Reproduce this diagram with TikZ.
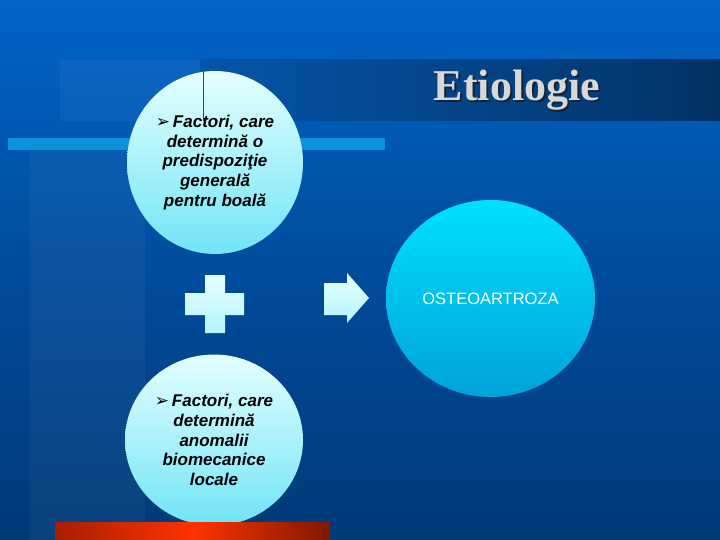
\documentclass[tikz,border=0pt]{standalone}
\usepackage{fontspec}
\setmainfont{Liberation Sans}
\newfontfamily\titlefont{Liberation Serif}
\newfontfamily\symfont{DejaVu Sans}
\usetikzlibrary{shapes.geometric}
\definecolor{bgtop}{HTML}{0064C8}
\definecolor{bgmid}{HTML}{004C9C}
\definecolor{bgbot}{HTML}{003A78}
\definecolor{lightbar}{HTML}{0C92DA}
\definecolor{tb1}{HTML}{0558B0}
\definecolor{tb2}{HTML}{03376E}
\definecolor{tb3}{HTML}{000A1E}
\definecolor{ctop}{HTML}{E4FFFF}
\definecolor{cbot}{HTML}{70E4F6}
\definecolor{otop}{HTML}{00E0FF}
\definecolor{obot}{HTML}{00A2DA}
\definecolor{redc}{HTML}{FF3300}
\definecolor{redl}{HTML}{A81E00}
\definecolor{redr}{HTML}{801800}
\definecolor{titlegray}{HTML}{D8D8D8}
\definecolor{shadowc}{HTML}{14233A}
\definecolor{vline}{HTML}{1E4A7E}
\pgfdeclarehorizontalshading{titlebar}{100bp}{color(0bp)=(tb1); color(20bp)=(tb1); color(70bp)=(tb2); color(100bp)=(tb3)}
\tikzset{
  circ/.style={ellipse, draw=none, inner sep=0pt, align=center, text=black,
    font=\fontsize{17}{19.7}\selectfont\bfseries\itshape},
  lightshape/.style={top color=ctop, bottom color=ctop!60!cbot, draw=none},
}
\newcommand{\bul}{{\symfont\fontsize{17}{17}\selectfont\upshape\mdseries ➢}}
\begin{document}
\begin{tikzpicture}[x=1pt,y=-1pt]
\useasboundingbox (0,0) rectangle (720,540);
% background
\shade[top color=bgtop, bottom color=bgbot, middle color=bgmid] (0,0) rectangle (720,540);
\fill[white, opacity=0.04] (30,150) rectangle (145,540);
\fill[white, opacity=0.04] (60,60) rectangle (200,121);
% title bar
\shade[shading=titlebar] (200,60) rectangle (720,121);
% light horizontal bar
\fill[lightbar] (8,138) rectangle (385,150);
% circles
\node[circ, minimum width=176pt, minimum height=183pt, top color=ctop, bottom color=cbot]
  (f1) at (215,162.5) {\bul\,Factori, care\\ determină o\\ predispoziţie\\ generală\\ pentru boală};
\node[circ, minimum width=178pt, minimum height=171pt, top color=ctop, bottom color=cbot]
  (f2) at (214,440) {\bul\,Factori, care\\ determină\\ anomalii\\ biomecanice\\ locale};
\node[circ, minimum width=209pt, minimum height=197pt, top color=otop, bottom color=obot,
  text=white, font=\fontsize{16.5}{18}\selectfont]
  (oa) at (490.5,298.5) {OSTEOARTROZA};
% vertical line
\draw[vline, line width=1pt] (203,71) -- (203,121);
% plus sign
\path[lightshape] (205,275) -- (225,275) -- (225,293) -- (244,293) -- (244,315) -- (225,315)
  -- (225,333) -- (205,333) -- (205,315) -- (185,315) -- (185,293) -- (205,293) -- cycle;
% block arrow
\path[lightshape] (324,283) -- (347,283) -- (347,273) -- (369,298) -- (347,323) -- (347,315)
  -- (324,315) -- cycle;
% red bottom bar
\shade[left color=redl, right color=redr, middle color=redc] (55,522) rectangle (330,540);
% title
\node[text=shadowc, font=\titlefont\bfseries\fontsize{44}{48}\selectfont] (tsh) at (519,92) {Etiologie};
\node[text=titlegray, font=\titlefont\bfseries\fontsize{44}{48}\selectfont] (title) at (517,90) {Etiologie};
\end{tikzpicture}
\end{document}
